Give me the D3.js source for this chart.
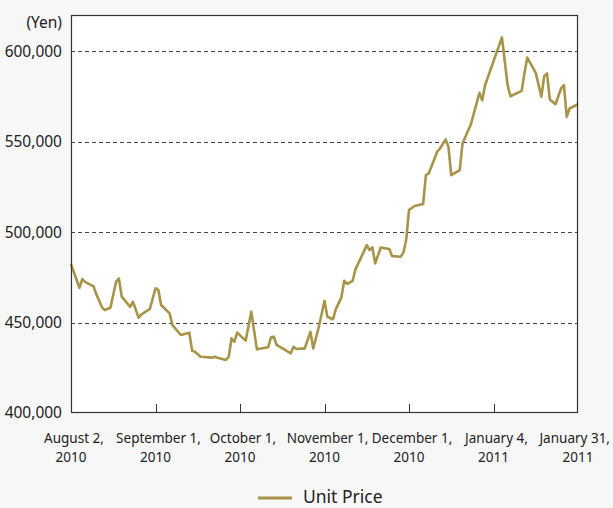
<!DOCTYPE html>
<html lang="en">
    <body style="margin:0">
        <svg id="chart" style="display:block"></svg>
    </body>

    <script src='https://d3js.org/d3.v7.min.js'></script>

    <script>
        // trading-day offsets (0 = Aug 2, 2010, 180 = Jan 31, 2011) and unit price in yen
        var days = [0, 3, 4, 5, 8, 9, 11, 12, 14, 16, 17, 18, 21, 22, 24, 25, 28, 30, 31, 32,
                    35, 36, 39, 42, 43, 44, 46, 50, 51, 52, 55, 56, 57, 58, 59, 62, 64, 66, 70, 71,
                    72, 73, 77, 78, 79, 80, 83, 85, 86, 88, 90, 91, 93, 94, 96, 97, 98, 100, 101, 103,
                    105, 106, 107, 108, 110, 113, 114, 117, 118, 119, 120, 122, 125, 126, 127, 130, 131, 133, 134, 135,
                    138, 139, 142, 145, 146, 147, 153, 155, 156, 160, 161, 162, 165, 167, 168, 169, 170, 172, 174, 175,
                    176, 177, 180];
        var prices = [482300, 469200, 474000, 472500, 470000, 465600, 458400, 456900, 458200, 472500, 474400, 464300, 458700, 461500, 452700, 454500, 457500, 468900, 468000, 459700,
                      455100, 448600, 443100, 444400, 434400, 433900, 431100, 430600, 431100, 430600, 429300, 431000, 441300, 439400, 444400, 440000, 456000, 435200, 436300, 441800,
                      442200, 437600, 433900, 433000, 436600, 435400, 435700, 444900, 435700, 447700, 462000, 453200, 451800, 457300, 463900, 473100, 471300, 473100, 479400, 486000,
                      492800, 490000, 491500, 482700, 491500, 490600, 486700, 486400, 488600, 495600, 512200, 514400, 515500, 531500, 532400, 544400, 546200, 551200, 547100, 531500,
                      534300, 549000, 559700, 577000, 572900, 581200, 607600, 581200, 575100, 578100, 588000, 596500, 588000, 574800, 586200, 587700, 573300, 570700, 579400, 581200,
                      563700, 568300, 570700];

        var tickDays = [0, 30, 60, 90, 120, 150, 180];
        var tickLines1 = ['August 2,', 'September 1,', 'October 1,', 'November 1,', 'December 1,', 'January 4,', 'January 31,'];
        var tickLines2 = ['2010', '2010', '2010', '2010', '2010', '2011', '2011'];
        var yTicks = [400000, 450000, 500000, 550000, 600000];
        var seriesName = 'Unit Price';

        var W = 613, H = 508;
        var plotL = 71, plotR = 578, plotT = 15, plotB = 413;
        var lineColor = '#a89448';
        var font = "'Noto Sans', 'Open Sans', sans-serif";

        var svg = d3.select('#chart').attr('width', W).attr('height', H);

        svg.append('rect').attr('width', W).attr('height', H).attr('fill', '#f7f7f7');

        var x = d3.scaleLinear().domain([0, 180]).range([plotL, plotR]);
        var y = d3.scaleLinear().domain([400000, 620000]).range([plotB, plotT]);

        // plot area
        svg.append('rect')
            .attr('x', plotL).attr('y', plotT)
            .attr('width', plotR - plotL).attr('height', plotB - plotT)
            .attr('fill', '#ffffff');

        // dashed gridlines
        svg.append('g')
            .selectAll('line')
            .data(yTicks.slice(1))
            .enter()
            .append('line')
            .attr('x1', plotL).attr('x2', plotR)
            .attr('y1', function (d) { return Math.round(y(d)) + 0.5; })
            .attr('y2', function (d) { return Math.round(y(d)) + 0.5; })
            .attr('stroke', '#444')
            .attr('stroke-width', 1)
            .attr('stroke-dasharray', '4,3');

        // y labels
        svg.append('g')
            .selectAll('text')
            .data(yTicks)
            .enter()
            .append('text')
            .attr('x', 62)
            .attr('y', function (d) { return y(d); })
            .attr('dy', '0.35em')
            .attr('text-anchor', 'end')
            .attr('font-family', font)
            .attr('font-size', 15.5)
            .attr('fill', '#222')
            .text(function (d) { return d3.format(',')(d); });

        svg.append('text')
            .attr('x', 62).attr('y', 23)
            .attr('dy', '0.35em')
            .attr('text-anchor', 'end')
            .attr('font-family', font)
            .attr('font-size', 15.5)
            .attr('fill', '#222')
            .text('(Yen)');

        // inner ticks on the bottom axis
        svg.append('g')
            .selectAll('line')
            .data(tickDays.slice(1, -1))
            .enter()
            .append('line')
            .attr('x1', function (d) { return Math.round(x(d)) + 0.5; })
            .attr('x2', function (d) { return Math.round(x(d)) + 0.5; })
            .attr('y1', plotB).attr('y2', plotB - 9)
            .attr('stroke', '#333');

        var xl = svg.append('g')
            .selectAll('text')
            .data(tickDays)
            .enter()
            .append('text')
            .attr('text-anchor', 'middle')
            .attr('font-family', font)
            .attr('font-size', 13.5)
            .attr('fill', '#222');
        xl.append('tspan')
            .attr('x', function (d) { return x(d) + 3; })
            .attr('y', 443)
            .text(function (d, i) { return tickLines1[i]; });
        xl.append('tspan')
            .attr('x', function (d) { return x(d); })
            .attr('y', 462)
            .text(function (d, i) { return tickLines2[i]; });
        // keep the first line of the last label inside the picture
        xl.select('tspan').each(function () {
            var w = this.getComputedTextLength();
            var cx = +this.getAttribute('x');
            if (cx + w / 2 > W - 3) this.setAttribute('x', W - 3 - w / 2);
        });

        // the series
        var pts = days.map(function (d, i) { return [d, prices[i]]; });
        svg.append('path')
            .datum(pts)
            .attr('fill', 'none')
            .attr('stroke', lineColor)
            .attr('stroke-width', 2.6)
            .attr('stroke-linejoin', 'round')
            .attr('d', d3.line()
                .x(function (d) { return x(d[0]); })
                .y(function (d) { return y(d[1]); }));

        // frame
        svg.append('rect')
            .attr('x', plotL + 0.5).attr('y', plotT + 0.5)
            .attr('width', plotR - plotL - 1).attr('height', plotB - plotT - 1)
            .attr('fill', 'none')
            .attr('stroke', '#333')
            .attr('stroke-width', 1.2);

        // legend
        svg.append('line')
            .attr('x1', 258).attr('x2', 292)
            .attr('y1', 498).attr('y2', 498)
            .attr('stroke', lineColor)
            .attr('stroke-width', 3);
        svg.append('text')
            .attr('x', 303).attr('y', 497)
            .attr('dy', '0.35em')
            .attr('font-family', font)
            .attr('font-size', 17.5)
            .attr('fill', '#222')
            .text(seriesName);
    </script>
</html>
